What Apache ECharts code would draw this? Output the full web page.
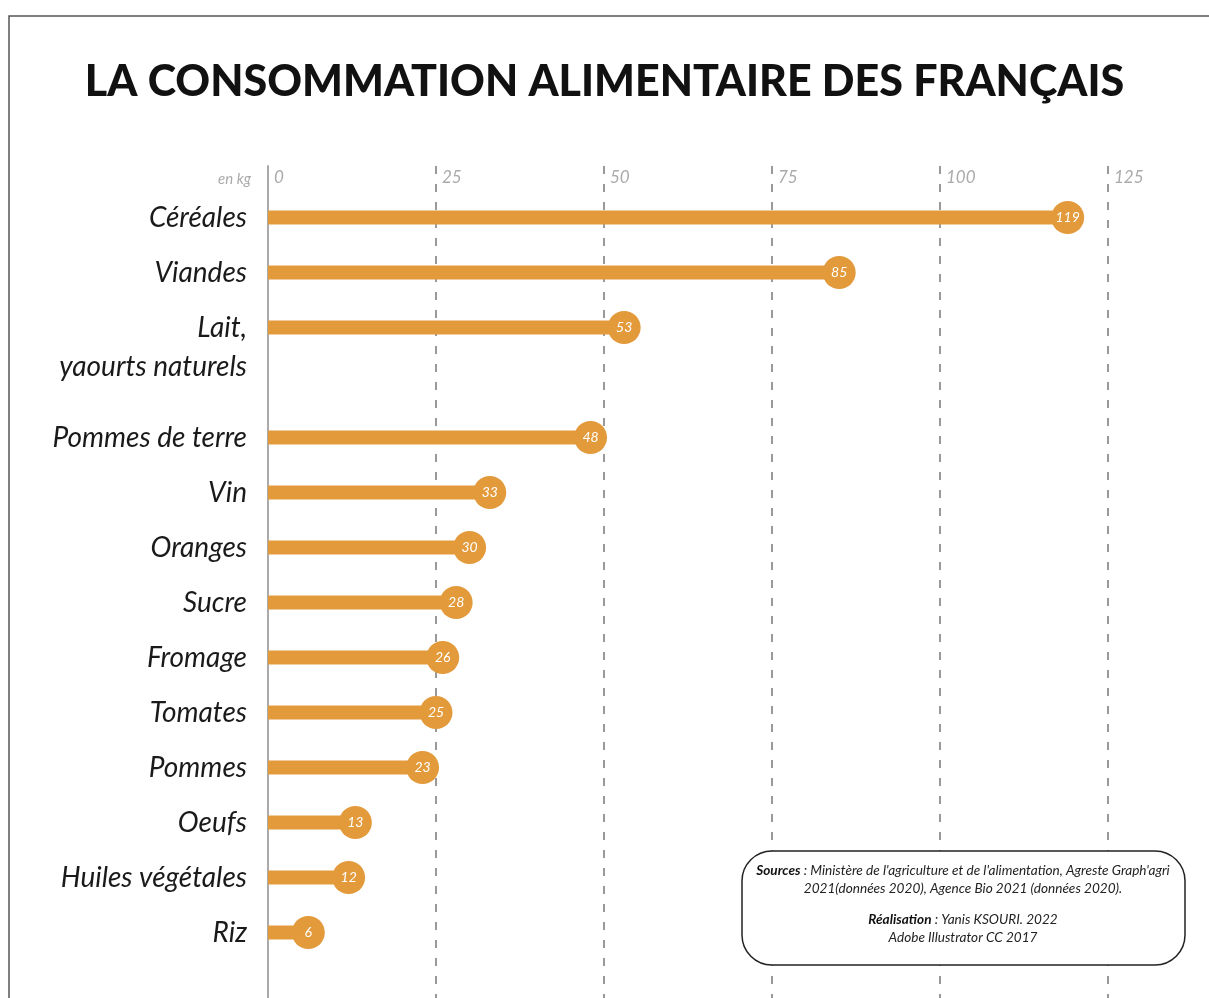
<!DOCTYPE html>
<html><head><meta charset="utf-8">
<script src="https://cdn.jsdelivr.net/npm/echarts@6/dist/echarts.min.js"></script>
<style>html,body{margin:0;padding:0;background:#fff}#c{width:1209px;height:998px}</style>
</head><body><div id="c"></div>
<script>
const categories = ['Céréales','Viandes','Lait,\nyaourts naturels','Pommes de terre','Vin','Oranges','Sucre','Fromage','Tomates','Pommes','Oeufs','Huiles végétales','Riz'];
const values = [119,85,53,48,33,30,28,26,25,23,13,12,6];
const xTicks = [0,25,50,75,100,125];
const titleText = 'LA CONSOMMATION ALIMENTAIRE DES FRANÇAIS';
const unitText = 'en kg';
const sourceBlock = [
  ['Sources', " : Ministère de l'agriculture et de l'alimentation, Agreste Graph'agri"],
  ['', '2021(données 2020), Agence Bio 2021 (données 2020).']
];
const creditBlock = [
  ['Réalisation', ' : Yanis KSOURI. 2022'],
  ['', 'Adobe Illustrator CC 2017']
];

const ORANGE = '#E39A3B';
const FONT = 'Lato, "Open Sans", sans-serif';

// a multi-line label takes an extra row of space
const axisCats = [], barVals = [], dots = [];
categories.forEach((c, i) => {
  axisCats.push(c); barVals.push(values[i]); dots.push([values[i], c]);
  if (c.indexOf('\n') >= 0) { axisCats.push(' '); barVals.push('-'); }
});

const toRich = block => block.map(l => (l[0] ? '{b|' + l[0] + '}' : '') + '{i|' + l[1] + '}').join('\n');
const FS = 13.6, LH = 18;
const richStyles = {
  b: {fontWeight: 'bold', fontStyle: 'italic', fontSize: FS, fontFamily: FONT, lineHeight: LH, fill: '#111'},
  i: {fontStyle: 'italic', fontSize: FS, fontFamily: FONT, lineHeight: LH, fill: '#222'}
};

const chart = echarts.init(document.getElementById('c'), null, {renderer: 'canvas'});
chart.setOption({
  animation: false,
  backgroundColor: '#fff',
  title: {
    text: titleText, left: 'center', top: 56,
    textStyle: {fontFamily: FONT, fontSize: 43, fontWeight: 900, color: '#111'}
  },
  grid: [
    {left: 268, right: 101, top: 190, bottom: 38},
    {left: 268, right: 101, top: 166, bottom: 0}
  ],
  xAxis: [
    {gridIndex: 0, type: 'value', min: xTicks[0], max: xTicks[xTicks.length - 1], interval: 25, show: false},
    {gridIndex: 1, type: 'value', min: xTicks[0], max: xTicks[xTicks.length - 1], interval: 25, position: 'top',
     axisLine: {show: false}, axisTick: {show: false},
     axisLabel: {inside: true, margin: 3, align: 'left', padding: [0, 0, 0, 6], color: '#aaa', fontStyle: 'italic', fontSize: 17, fontFamily: FONT},
     splitLine: {show: true, lineStyle: {color: '#999', width: 2, type: [8, 10]}}}
  ],
  yAxis: [
    {gridIndex: 0, type: 'category', inverse: true, data: axisCats,
     axisLine: {show: false}, axisTick: {show: false},
     axisLabel: {margin: 21, color: '#1a1a1a', fontStyle: 'italic', fontSize: 28, fontFamily: FONT, lineHeight: 39,
       formatter: v => v.indexOf('\n') >= 0 ? '\n' + v : v}},
    {gridIndex: 1, type: 'value', min: 0, max: 1,
     axisLine: {show: true, lineStyle: {color: '#aaa', width: 2}},
     axisTick: {show: false}, axisLabel: {show: false}, splitLine: {show: false}}
  ],
  series: [
    {type: 'bar', xAxisIndex: 0, yAxisIndex: 0, data: barVals, barWidth: 14, itemStyle: {color: ORANGE}, z: 3},
    {type: 'scatter', xAxisIndex: 0, yAxisIndex: 0, data: dots, symbolSize: 33, itemStyle: {color: ORANGE, opacity: 1}, z: 4,
     label: {show: true, position: 'inside', formatter: p => p.value[0], color: '#fff', fontStyle: 'italic', fontSize: 14, fontFamily: FONT}}
  ],
  graphic: [
    {type: 'polyline', shape: {points: [[9, 998], [9, 16], [1209, 16]]}, style: {stroke: '#555', lineWidth: 1.5, fill: null}, z: 100},
    {type: 'text', x: 251, y: 179, z: 100, style: {text: unitText, align: 'right', verticalAlign: 'middle', fill: '#aaa', fontStyle: 'italic', fontSize: 15, fontFamily: FONT}},
    {type: 'rect', shape: {x: 742, y: 851, width: 443, height: 114, r: 30}, style: {fill: '#fff', stroke: '#222', lineWidth: 1.5}, z: 100},
    {type: 'text', x: 963, y: 862, z: 101, style: {text: toRich(sourceBlock), align: 'center', verticalAlign: 'top', fill: '#222', fontFamily: FONT, fontSize: FS, lineHeight: LH, rich: richStyles}},
    {type: 'text', x: 963, y: 911, z: 101, style: {text: toRich(creditBlock), align: 'center', verticalAlign: 'top', fill: '#222', fontFamily: FONT, fontSize: FS, lineHeight: LH, rich: richStyles}}
  ]
});
</script></body></html>
